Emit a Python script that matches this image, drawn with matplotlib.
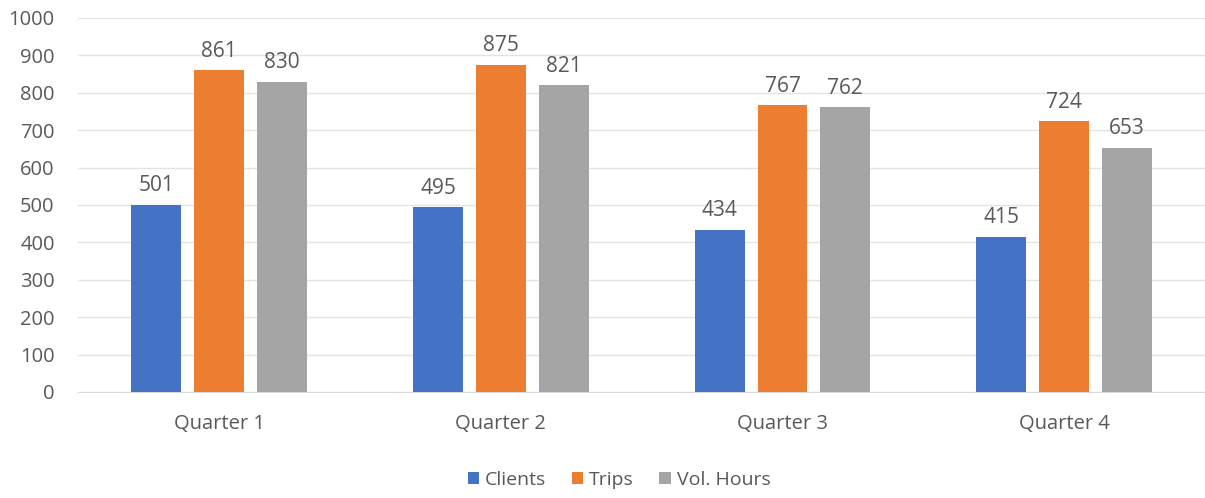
import matplotlib.pyplot as plt
import numpy as np

# data
quarters = ["Quarter 1", "Quarter 2", "Quarter 3", "Quarter 4"]
clients = [501, 495, 434, 415]
trips = [861, 875, 767, 724]
vol_hours = [830, 821, 762, 653]

series = [("Clients", clients, "#4472C4"),
          ("Trips", trips, "#ED7D31"),
          ("Vol. Hours", vol_hours, "#A5A5A5")]

plt.rcParams['font.family'] = ['Open Sans', 'DejaVu Sans']
text_color = "#595959"

fig = plt.figure(figsize=(12.05, 4.98), dpi=100)
ax = fig.add_axes([0.065, 0.213, 0.935, 0.751])

x = np.arange(len(quarters))
width = 0.177
step = 0.223

for i, (name, vals, color) in enumerate(series):
    pos = x + (i - 1) * step
    bars = ax.bar(pos, vals, width, color=color, label=name, zorder=3)
    for b, v in zip(bars, vals):
        ax.text(b.get_x() + b.get_width() / 2, v + 22, str(v),
                ha='center', va='bottom', fontsize=15, color=text_color)

ax.set_xlim(-0.5, len(quarters) - 0.5)
ax.set_ylim(0, 1000)
ax.set_yticks(np.arange(0, 1001, 100))
ax.set_xticks(x)
ax.set_xticklabels(quarters)
ax.tick_params(axis='both', length=0, labelsize=14.5, colors=text_color)
ax.tick_params(axis='x', pad=16)
ax.tick_params(axis='y', pad=17)

ax.grid(axis='y', color="#E3E3E3", linewidth=1, zorder=0)
for s in ['top', 'right', 'left']:
    ax.spines[s].set_visible(False)
ax.spines['bottom'].set_color("#D9D9D9")

ax.legend(loc='center', bbox_to_anchor=(0.48, -0.235), ncol=3, frameon=False,
          fontsize=14, handlelength=0.6, handleheight=0.6, handletextpad=0.3,
          columnspacing=1.3, labelcolor=text_color)

plt.savefig("out.png", dpi=100)
plt.close()
